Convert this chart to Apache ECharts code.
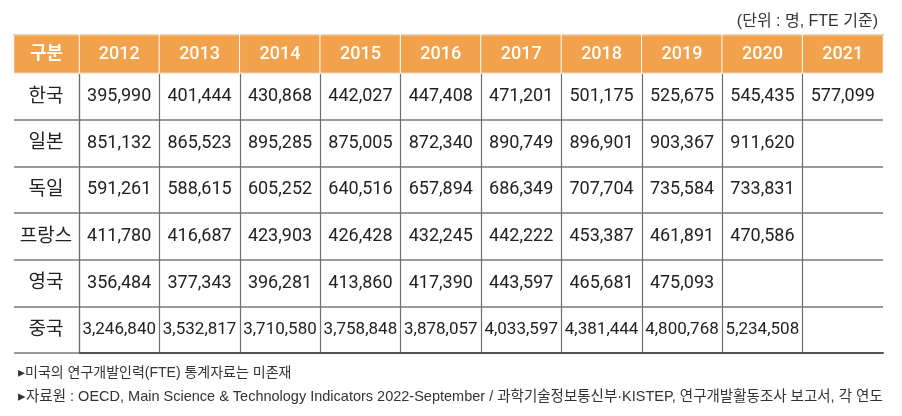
<!DOCTYPE html>
<html>
<head>
<meta charset="utf-8">
<script src="https://cdn.jsdelivr.net/npm/echarts@6/dist/echarts.min.js"></script>
<style>
  html, body { margin: 0; padding: 0; background: #fff; }
  #chart { width: 902px; height: 416px; }
</style>
</head>
<body>
<div id="chart"></div>
<script>
const headLabel = '구분';
const years = ['2012', '2013', '2014', '2015', '2016', '2017', '2018', '2019', '2020', '2021'];
const countries = ['한국', '일본', '독일', '프랑스', '영국', '중국'];

const korea = [395990, 401444, 430868, 442027, 447408, 471201, 501175, 525675, 545435, 577099];
const japan = [851132, 865523, 895285, 875005, 872340, 890749, 896901, 903367, 911620, null];
const germany = [591261, 588615, 605252, 640516, 657894, 686349, 707704, 735584, 733831, null];
const france = [411780, 416687, 423903, 426428, 432245, 442222, 453387, 461891, 470586, null];
const uk = [356484, 377343, 396281, 413860, 417390, 443597, 465681, 475093, null, null];
const china = [3246840, 3532817, 3710580, 3758848, 3878057, 4033597, 4381444, 4800768, 5234508, null];

const unitText = '(단위 : 명, FTE 기준)';
const notes = [
  '▸미국의 연구개발인력(FTE) 통계자료는 미존재',
  '▸자료원 : OECD, Main Science & Technology Indicators 2022-September / 과학기술정보통신부·KISTEP, 연구개발활동조사 보고서, 각 연도'
];

const rows = [korea, japan, germany, france, uk, china];
const NUM_FONT = "Roboto, 'Liberation Sans', sans-serif";
const KR_FONT = "'Liberation Sans', 'Noto Sans CJK KR', sans-serif";
const ORANGE = '#F2A24D';
const chinaRow = rows.indexOf(china);

// one heatmap cell per value; the China row is set a little tighter
const bodyData = [];
rows.forEach((row, r) => {
  row.forEach((v, c) => {
    if (v == null) return;
    bodyData.push(r === chinaRow
      ? { value: [c, r, v], label: { fontSize: 17 } }
      : [c, r, v]);
  });
});

// vertical lines: keep the left edge and inner lines, hide the right edge
const vLineColors = years.map(() => '#6e6e6e').concat(['rgba(255,255,255,0)']);

const chart = echarts.init(document.getElementById('chart'));

const hidden = { show: false };

chart.setOption({
  animation: false,
  title: [
    {
      text: unitText, right: 19, top: 9,
      textStyle: { fontSize: 16, fontWeight: 'normal', color: '#333', fontFamily: KR_FONT }
    },
    {
      text: notes[0], left: 13, top: 361,
      textStyle: { fontSize: 14, fontWeight: 'normal', color: '#333', fontFamily: KR_FONT }
    },
    {
      text: notes[1], left: 13, top: 385,
      textStyle: { fontSize: 14.5, fontWeight: 'normal', color: '#333', fontFamily: KR_FONT }
    }
  ],
  grid: [
    { left: 79, top: 35, width: 804, height: 38 },
    { left: 14, top: 35, width: 65, height: 38 },
    { left: 79, top: 73, width: 804, height: 280 }
  ],
  xAxis: [
    {
      gridIndex: 0, type: 'category', data: years, position: 'top',
      axisLine: { show: true, lineStyle: { color: '#555', width: 2 } },
      axisTick: hidden, axisLabel: hidden, splitLine: hidden
    },
    {
      gridIndex: 1, type: 'category', data: [headLabel], position: 'top',
      axisLine: { show: true, lineStyle: { color: '#555', width: 2 } },
      axisTick: hidden, axisLabel: hidden, splitLine: hidden
    },
    {
      gridIndex: 2, type: 'category', data: years, position: 'bottom',
      axisLine: { show: true, lineStyle: { color: '#555', width: 2 } },
      axisTick: hidden, axisLabel: hidden,
      splitLine: { show: true, interval: 0, lineStyle: { color: vLineColors, width: 1.2 } }
    }
  ],
  yAxis: [
    { gridIndex: 0, type: 'category', data: [''], show: false },
    { gridIndex: 1, type: 'category', data: [''], show: false },
    {
      gridIndex: 2, type: 'category', data: countries, inverse: true,
      axisLine: { show: true, lineStyle: { color: '#6e6e6e', width: 1.2 } },
      axisTick: { show: true, interval: 0, length: 65, lineStyle: { color: '#9a9a9a', width: 2 } },
      axisLabel: {
        interval: 0, align: 'center', margin: 33,
        fontSize: 19, color: '#222', fontFamily: KR_FONT
      },
      splitLine: { show: true, interval: 0, lineStyle: { color: '#9a9a9a', width: 2 } }
    }
  ],
  series: [
    {
      type: 'heatmap', xAxisIndex: 0, yAxisIndex: 0,
      data: years.map((y, i) => [i, 0, Number(y)]),
      itemStyle: { color: ORANGE, borderColor: '#fff', borderWidth: 1 },
      label: {
        show: true, color: '#fff', fontSize: 18, fontWeight: 500, fontFamily: NUM_FONT,
        formatter: p => String(p.value[2])
      },
      emphasis: { disabled: true }
    },
    {
      type: 'heatmap', xAxisIndex: 1, yAxisIndex: 1,
      data: [[0, 0, 0]],
      itemStyle: { color: ORANGE, borderColor: '#fff', borderWidth: 1 },
      label: {
        show: true, color: '#fff', fontSize: 18, fontWeight: 'bold', fontFamily: KR_FONT,
        formatter: () => headLabel
      },
      emphasis: { disabled: true }
    },
    {
      type: 'heatmap', xAxisIndex: 2, yAxisIndex: 2,
      data: bodyData,
      itemStyle: { color: 'rgba(255,255,255,0)' },
      label: {
        show: true, color: '#222', fontSize: 18, fontFamily: NUM_FONT,
        formatter: p => p.value[2].toLocaleString('en-US')
      },
      emphasis: { disabled: true }
    }
  ]
});
</script>
</body>
</html>
